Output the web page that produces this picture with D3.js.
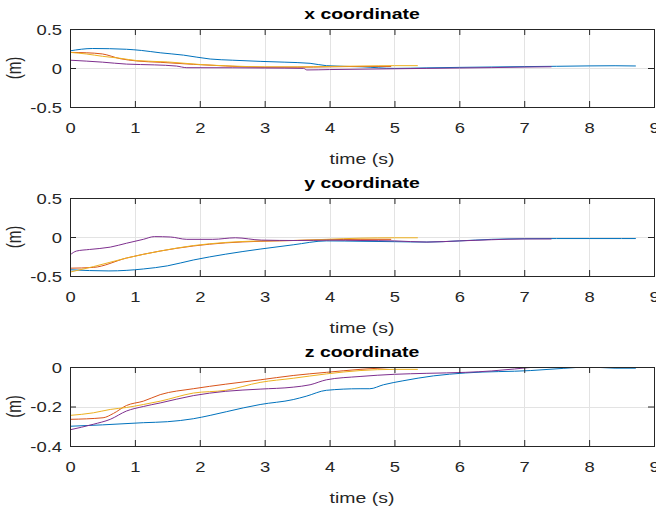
<!DOCTYPE html>
<html>
<head>
<meta charset="utf-8">
<script src="https://cdn.jsdelivr.net/npm/d3@7"></script>
<style>
  body { margin: 0; background: #fff; }
  svg { display: block; }
  text { font-family: "Liberation Sans", Arial, sans-serif; }
</style>
</head>
<body>
<svg id="chart"></svg>
<script>
const width = 656;
const height = 508;

// time ticks, shared by all three panels
const timeTicks = [0, 1, 2, 3, 4, 5, 6, 7, 8, 9];
const seriesNames = ['run 1', 'run 2', 'run 3', 'run 4'];
const seriesColors = ['#0072bd', '#d95319', '#edb120', '#7e2f8e'];

// x coordinate, [time, value]
const xRun1 = [[0,0.22],[0.35,0.25],[0.87,0.24],[1.1,0.225],[1.39,0.195],[1.75,0.165],[2.16,0.115],[2.5,0.1],[2.93,0.085],[3.3,0.075],[3.7,0.06],[3.95,0.03],[4.5,0.015],[5,-0.005],[5.5,0.002],[6,0.008],[6.5,0.013],[7,0.018],[7.5,0.022],[8,0.027],[8.4,0.029],[8.72,0.026]];
const xRun2 = [[0,0.2],[0.25,0.195],[0.5,0.18],[0.77,0.12],[1.03,0.09],[1.39,0.073],[1.9,0.047],[2.4,0.026],[2.93,0.01],[3.5,0.01],[4,0.015],[4.5,0.02],[4.95,0.02]];
const xRun3 = [[0,0.2],[0.25,0.18],[0.5,0.15],[0.77,0.125],[1.03,0.095],[1.5,0.078],[2,0.045],[2.5,0.025],[3,0.015],[3.5,0.015],[4,0.02],[4.5,0.025],[5,0.03],[5.36,0.03]];
const xRun4 = [[0,0.1],[0.5,0.075],[0.87,0.05],[1.3,0.04],[1.64,0.025],[1.8,0.004],[2.5,0.003],[3,0],[3.6,-0.005],[3.65,-0.025],[4,-0.02],[4.5,-0.015],[5,-0.01],[5.5,-0.005],[6,0],[6.5,0.005],[7,0.012],[7.42,0.016]];

// y coordinate
const yRun1 = [[0,-0.42],[0.6,-0.435],[1.13,-0.41],[1.5,-0.37],[1.9,-0.295],[2.4,-0.22],[2.93,-0.155],[3.44,-0.1],[3.95,-0.05],[4.5,-0.055],[5,-0.06],[5.5,-0.065],[6,-0.05],[6.5,-0.03],[7,-0.022],[7.5,-0.02],[8,-0.02],[8.5,-0.02],[8.72,-0.02]];
const yRun2 = [[0,-0.4],[0.36,-0.39],[0.87,-0.27],[1.39,-0.18],[1.9,-0.115],[2.4,-0.075],[2.93,-0.055],[3.44,-0.045],[3.95,-0.035],[4.47,-0.03],[4.95,-0.03]];
const yRun3 = [[0,-0.45],[0.36,-0.38],[0.87,-0.27],[1.39,-0.18],[1.9,-0.11],[2.4,-0.07],[2.93,-0.05],[3.44,-0.045],[3.95,-0.03],[4.47,-0.015],[5,-0.01],[5.36,-0.01]];
const yRun4 = [[0,-0.23],[0.1,-0.18],[0.3,-0.16],[0.62,-0.13],[0.87,-0.08],[1.13,-0.03],[1.3,0.005],[1.55,0],[1.8,-0.03],[2.2,-0.03],[2.55,-0.01],[2.95,-0.04],[3.5,-0.045],[4,-0.04],[4.5,-0.045],[5,-0.05],[5.5,-0.065],[6,-0.05],[6.5,-0.035],[7,-0.025],[7.42,-0.025]];

// z coordinate
const zRun1 = [[0,-0.3],[0.5,-0.293],[1.13,-0.282],[1.5,-0.277],[1.9,-0.262],[2.16,-0.245],[2.67,-0.207],[2.93,-0.19],[3.44,-0.165],[3.64,-0.148],[3.95,-0.118],[4.47,-0.11],[4.62,-0.11],[4.83,-0.09],[5.13,-0.07],[5.6,-0.045],[6.1,-0.03],[7.1,-0.018],[7.6,-0.007],[8,0],[8.4,-0.006],[8.72,-0.006]];
const zRun2 = [[0,-0.265],[0.51,-0.257],[0.67,-0.235],[0.87,-0.195],[1.13,-0.173],[1.39,-0.14],[1.9,-0.11],[2.4,-0.087],[2.93,-0.065],[3.44,-0.043],[3.95,-0.027],[4.47,-0.012],[4.95,-0.002]];
const zRun3 = [[0,-0.245],[0.36,-0.232],[0.62,-0.215],[0.87,-0.205],[1.13,-0.19],[1.39,-0.173],[1.9,-0.132],[2.4,-0.118],[2.93,-0.078],[3.44,-0.057],[3.95,-0.035],[4.47,-0.018],[5,-0.012],[5.36,-0.012]];
const zRun4 = [[0,-0.318],[0.36,-0.29],[0.62,-0.265],[0.87,-0.223],[1.13,-0.2],[1.39,-0.182],[1.9,-0.145],[2.4,-0.123],[2.93,-0.112],[3.44,-0.102],[3.7,-0.09],[3.95,-0.065],[4.47,-0.048],[5,-0.037],[5.5,-0.032],[6.1,-0.027],[6.5,-0.02],[6.85,-0.01],[7.25,0],[7.42,0]];

const yTicksXY = [-0.5, 0, 0.5];
const yTickLabelsXY = ['-0.5', '0', '0.5'];
const yTicksZ = [-0.4, -0.2, 0];
const yTickLabelsZ = ['-0.4', '-0.2', '0'];

const panels = [
  { title: 'x coordinate', top: 29, bottom: 107, domain: [-0.5, 0.5], ticks: yTicksXY, labels: yTickLabelsXY, runs: [xRun1, xRun2, xRun3, xRun4] },
  { title: 'y coordinate', top: 198, bottom: 276, domain: [-0.5, 0.5], ticks: yTicksXY, labels: yTickLabelsXY, runs: [yRun1, yRun2, yRun3, yRun4] },
  { title: 'z coordinate', top: 367, bottom: 446, domain: [-0.4, 0], ticks: yTicksZ, labels: yTickLabelsZ, runs: [zRun1, zRun2, zRun3, zRun4] },
];

const left = 70;
const right = 654;
const stretch = 1.28; // the figure text is wider than tall
const tickFont = 14.4;
const labelFont = 15.2;
const axisColor = '#262626';

const svg = d3.select('#chart').attr('width', width).attr('height', height);

const xScale = d3.scaleLinear().domain([0, 9]).range([left, right]);

panels.forEach((p, i) => {
  const yScale = d3.scaleLinear().domain(p.domain).range([p.bottom, p.top]);
  const g = svg.append('g').classed('panel', true);

  g.append('clipPath').attr('id', `clip${i}`)
    .append('rect')
    .attr('x', left).attr('y', p.top)
    .attr('width', right - left).attr('height', p.bottom - p.top);

  // grid
  g.append('g')
    .attr('transform', `translate(0, ${p.bottom})`)
    .call(d3.axisBottom(xScale).tickValues(timeTicks).tickSize(-(p.bottom - p.top)).tickFormat(''))
    .call(s => s.select('.domain').remove())
    .call(s => s.selectAll('line').attr('stroke', '#e3e3e3').attr('shape-rendering', 'crispEdges'));
  g.append('g')
    .attr('transform', `translate(${left}, 0)`)
    .call(d3.axisLeft(yScale).tickValues(p.ticks).tickSize(-(right - left)).tickFormat(''))
    .call(s => s.select('.domain').remove())
    .call(s => s.selectAll('line').attr('stroke', '#e3e3e3').attr('shape-rendering', 'crispEdges'));

  // lines
  const line = d3.line()
    .x(d => xScale(d[0]))
    .y(d => yScale(d[1]))
    .curve(d3.curveMonotoneX);
  g.append('g').attr('clip-path', `url(#clip${i})`)
    .selectAll('path')
    .data(p.runs)
    .join('path')
    .attr('fill', 'none')
    .attr('stroke', (d, k) => seriesColors[k])
    .attr('stroke-width', 1)
    .attr('d', line);

  // axes with inward ticks on all four sides
  const bottomAxis = g.append('g')
    .attr('transform', `translate(0, ${p.bottom})`)
    .call(d3.axisBottom(xScale).tickValues(timeTicks).tickSize(-6).tickSizeOuter(0).tickFormat(d3.format('d')));
  bottomAxis.selectAll('text')
    .attr('y', 26).attr('dy', null)
    .attr('transform', `scale(${stretch},1)`)
    .style('font-size', `${tickFont}px`);

  const leftAxis = g.append('g')
    .attr('transform', `translate(${left}, 0)`)
    .call(d3.axisLeft(yScale).tickValues(p.ticks).tickSize(-6).tickSizeOuter(0).tickFormat((d, k) => p.labels[k]));
  leftAxis.selectAll('text')
    .attr('x', -8 / stretch).attr('dy', '0.36em')
    .attr('transform', `scale(${stretch},1)`)
    .style('font-size', `${tickFont}px`);

  g.append('g')
    .attr('transform', `translate(0, ${p.top})`)
    .call(d3.axisTop(xScale).tickValues(timeTicks).tickSize(-6).tickSizeOuter(0).tickFormat(''));
  g.append('g')
    .attr('transform', `translate(${right}, 0)`)
    .call(d3.axisRight(yScale).tickValues(p.ticks).tickSize(-6).tickSizeOuter(0).tickFormat(''));

  g.selectAll('.tick line').filter(function () { return this.getAttribute('stroke') !== '#e3e3e3'; })
    .attr('stroke', axisColor);
  g.selectAll('.tick text').attr('fill', axisColor).attr('font-family', null);
  g.selectAll('.domain').attr('stroke', 'none');

  g.append('rect')
    .attr('x', left).attr('y', p.top)
    .attr('width', right - left).attr('height', p.bottom - p.top)
    .attr('fill', 'none')
    .attr('stroke', axisColor)
    .attr('stroke-width', 1)
    .attr('shape-rendering', 'crispEdges');

  // title and labels
  g.append('text')
    .attr('transform', `translate(${(left + right) / 2}, ${p.top - 10}) scale(${stretch},1)`)
    .attr('text-anchor', 'middle')
    .style('font-size', `${labelFont}px`)
    .style('font-weight', 'bold')
    .attr('fill', '#000')
    .text(p.title);

  g.append('text')
    .attr('transform', `translate(${(left + right) / 2}, ${p.bottom + 57}) scale(${stretch},1)`)
    .attr('text-anchor', 'middle')
    .style('font-size', `${labelFont}px`)
    .attr('fill', axisColor)
    .text('time (s)');

  g.append('text')
    .attr('transform', `translate(21, ${(p.top + p.bottom) / 2}) scale(${stretch},1) rotate(-90)`)
    .attr('text-anchor', 'middle')
    .style('font-size', `${labelFont}px`)
    .attr('fill', axisColor)
    .text('(m)');
});
</script>
</body>
</html>
